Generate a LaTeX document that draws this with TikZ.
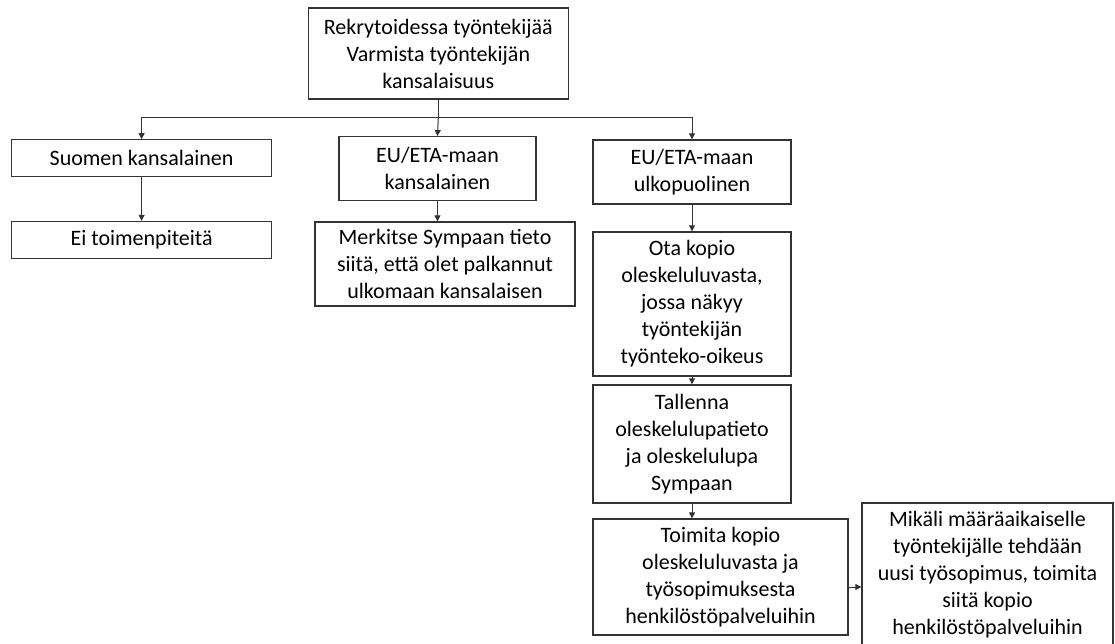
\documentclass[tikz,border=0pt]{standalone}
\usepackage{fontspec}
\setmainfont{Carlito}
\usetikzlibrary{arrows.meta}

\begin{document}
\begin{tikzpicture}[x=1pt, y=-1pt,
  box/.style={draw=black!80, line width=1.3pt, align=center, inner sep=0pt,
    font=\fontsize{22}{27}\selectfont},
  arr/.style={draw=black!80, line width=1pt, -{Triangle[length=6pt,width=6pt]}}]

\clip (0,0) rectangle (1115,643);

\draw (438.3,53.5) node[box, minimum width=260pt, minimum height=91pt] (top)
  {Rekrytoidessa työntekijää\\Varmista työntekijän\\kansalaisuus};
\draw (141.6,158.3) node[box, minimum width=260pt, minimum height=37pt] (suomen)
  {Suomen kansalainen};
\draw (141.6,240) node[box, minimum width=260pt, minimum height=37pt] (ei)
  {Ei toimenpiteitä};
\draw (437.5,168.7) node[box, minimum width=197pt, minimum height=64pt] (eukans)
  {EU/ETA-maan\\kansalainen};
\draw (445,264) node[box, minimum width=260pt, minimum height=84pt] (merkitse)
  {Merkitse Sympaan tieto\\siitä, että olet palkannut\\ulkomaan kansalaisen};
\draw (692,172) node[box, minimum width=198pt, minimum height=64pt] (euulk)
  {EU/ETA-maan\\ulkopuolinen};
\draw (692,304) node[box, minimum width=198pt, minimum height=144pt] (ota)
  {Ota kopio\\oleskeluluvasta,\\jossa näkyy\\työntekijän\\työnteko-oikeus};
\draw (692,444) node[box, minimum width=198pt, minimum height=118pt] (tallenna)
  {Tallenna\\oleskelulupatieto\\ja oleskelulupa\\Sympaan};
\draw (720.5,577) node[box, minimum width=255pt, minimum height=116pt] (toimita)
  {Toimita kopio\\oleskeluluvasta ja\\työsopimuksesta\\henkilöstöpalveluihin};
\draw (987.5,574.5) node[box, minimum width=251pt, minimum height=143pt] (mikali)
  {Mikäli määräaikaiselle\\työntekijälle tehdään\\uusi työsopimus, toimita\\siitä kopio\\henkilöstöpalveluihin};

% arrows
\coordinate (split) at (438.3,117.3);
\draw[line width=1pt, draw=black!80] (top.south) -- (split);
\draw[arr] (split) -| (suomen.north);
\draw[arr] (split) -| (euulk.north);
\draw[arr] (split) -- (eukans.north);
\draw[arr] (suomen) -- (ei);
\draw[arr] (eukans.south) -- (eukans.south |- merkitse.north);
\draw[arr] (euulk) -- (ota);
\draw[arr] (ota) -- (tallenna);
\draw[arr] (tallenna.south) -- (tallenna.south |- toimita.north);
\draw[arr] ([yshift=-10pt]toimita.east) -- ([yshift=-10pt]toimita.east -| mikali.west);

\end{tikzpicture}
\end{document}
